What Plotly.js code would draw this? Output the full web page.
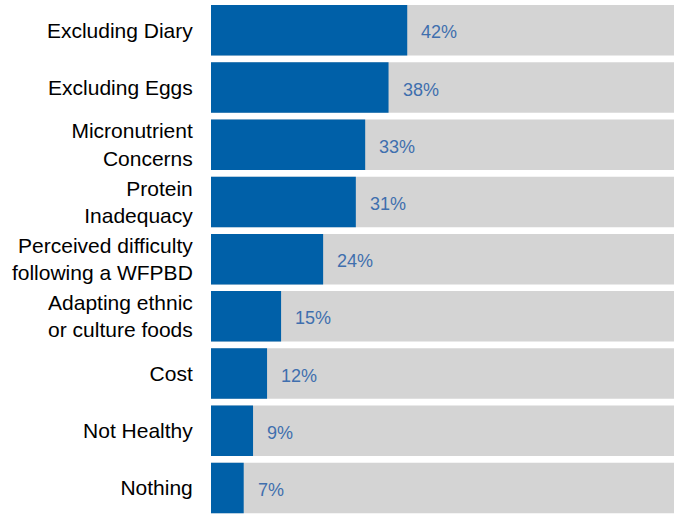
<!DOCTYPE html>
<html>
<head>
<meta charset="utf-8">
<script src="https://cdn.plot.ly/plotly-3.0.1.min.js"></script>
<style>html,body{margin:0;padding:0;background:#fff;}#chart{width:674px;height:515px;}</style>
</head>
<body>
<div id="chart"></div>
<script>
var categories = [
  "Excluding Diary",
  "Excluding Eggs",
  "Micronutrient<br>Concerns",
  "Protein<br>Inadequacy",
  "Perceived difficulty<br>following a WFPBD",
  "Adapting ethnic<br>or culture foods",
  "Cost",
  "Not Healthy",
  "Nothing"
];
var values = [42, 38, 33, 31, 24, 15, 12, 9, 7];
var valueLabels = ["42%", "38%", "33%", "31%", "24%", "15%", "12%", "9%", "7%"];
var totals = [100, 100, 100, 100, 100, 100, 100, 100, 100];

var bgTrace = {
  type: "bar", orientation: "h",
  y: categories, x: totals,
  marker: {color: "#d4d4d4"},
  hoverinfo: "skip"
};
var fgTrace = {
  type: "bar", orientation: "h",
  y: categories, x: values,
  marker: {color: "#0060a8"},
  hoverinfo: "skip"
};

var annotations = values.map(function (v, i) {
  return {
    x: v, y: categories[i], xref: "x", yref: "y",
    text: valueLabels[i], showarrow: false,
    xanchor: "left", yanchor: "middle",
    xshift: 12, yshift: -2,
    font: {family: "Liberation Sans, Arial, sans-serif", size: 18, color: "#3f6fae"}
  };
});

var layout = {
  width: 674, height: 515,
  margin: {l: 211, r: 0, t: 0, b: 0},
  paper_bgcolor: "#ffffff", plot_bgcolor: "#ffffff",
  barmode: "overlay", bargap: 0.117,
  showlegend: false,
  xaxis: {range: [0, 99.1], showgrid: false, zeroline: false, showticklabels: false, showline: false, fixedrange: true},
  yaxis: {
    type: "category", categoryorder: "array", categoryarray: categories,
    range: [8.473, -0.53], showgrid: false, zeroline: false, showline: false,
    ticks: "outside", ticklen: 13, tickcolor: "rgba(0,0,0,0)",
    automargin: false,
    tickfont: {family: "Liberation Sans, Arial, sans-serif", size: 21, color: "#000000"}
  },
  annotations: annotations
};

Plotly.newPlot("chart", [bgTrace, fgTrace], layout, {displayModeBar: false, staticPlot: true});
</script>
</body>
</html>
